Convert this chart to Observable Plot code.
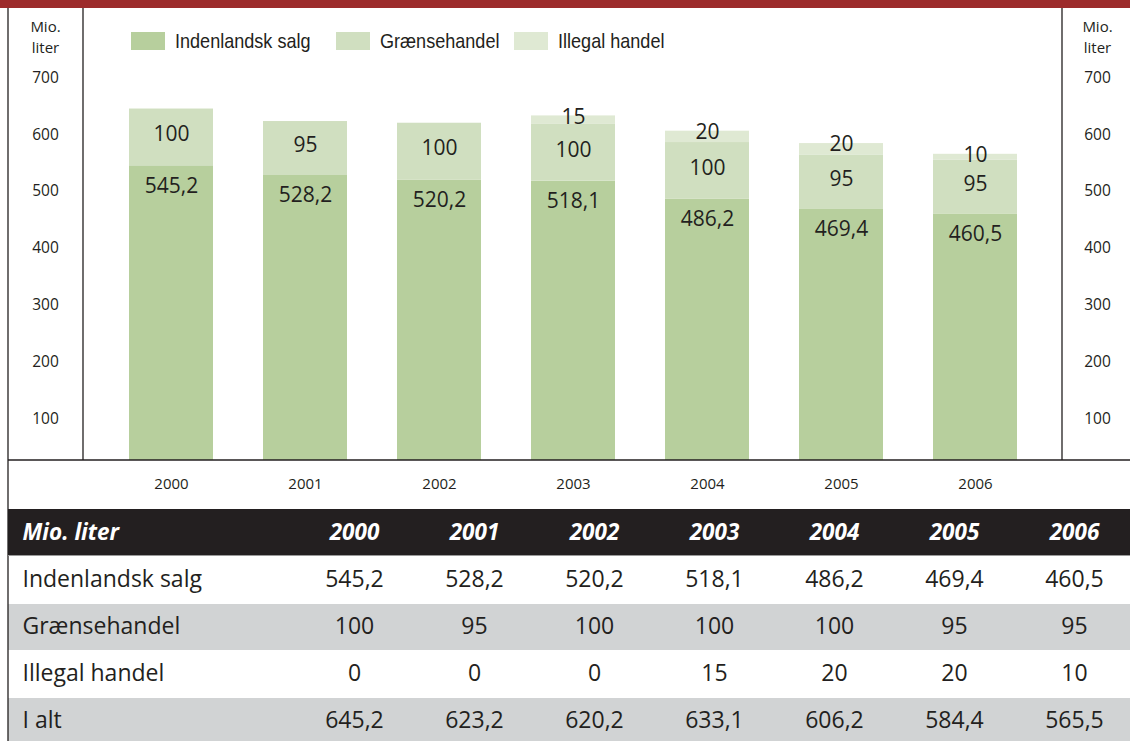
<!DOCTYPE html>
<html>
<head>
<meta charset="utf-8">
<script src="https://cdn.jsdelivr.net/npm/d3@7"></script>
<script src="https://cdn.jsdelivr.net/npm/@observablehq/plot@0.6"></script>
<style>
html, body { margin: 0; padding: 0; background: #fff; overflow: hidden; }
#wrap { position: relative; width: 1130px; height: 741px; overflow: hidden; }
#wrap svg { display: block; }
.legend { position: absolute; top: 32px; left: 0; height: 18px; width: 1130px; }
.item { position: absolute; top: 0; display: flex; align-items: center; white-space: nowrap;
  font-family: "Liberation Sans", Arial, sans-serif; font-size: 21px; line-height: 18px; color: #231f20; }
.sw { width: 34px; height: 18px; margin-right: 10px; flex: none; }
.tx { display: inline-block; transform: scaleX(0.86); transform-origin: 0 50%; }
</style>
</head>
<body>
<div id="wrap"></div>
<script>
// ---- data ----
const years = ["2000", "2001", "2002", "2003", "2004", "2005", "2006"];
const types = ["Indenlandsk salg", "Grænsehandel", "Illegal handel"];
const indenlandsk = [545.2, 528.2, 520.2, 518.1, 486.2, 469.4, 460.5];
const graense = [100, 95, 100, 100, 100, 95, 95];
const illegal = [0, 0, 0, 15, 20, 20, 10];
const colors = ["#b7cf9d", "#d0dfc0", "#dfe9d3"];
const yTicks = [100, 200, 300, 400, 500, 600, 700];
const unitLine1 = "Mio.";
const unitLine2 = "liter";
const tableHead = "Mio. liter";
const totalLabel = "I alt";

// ---- helpers ----
const fmt = v => String(Math.round(v * 10) / 10).replace(".", ",");
const series = [indenlandsk, graense, illegal];
const totals = years.map((_, i) => indenlandsk[i] + graense[i] + illegal[i]);

const rows = [];
types.forEach((t, k) => years.forEach((yr, i) => rows.push({year: yr, type: t, value: series[k][i]})));

const lblInd = years.map((yr, i) => ({year: yr, y: indenlandsk[i], text: fmt(indenlandsk[i])}));
const lblGr = years.map((yr, i) => ({year: yr, y: indenlandsk[i] + graense[i] / 2, text: fmt(graense[i])}));
const lblIl = years.map((yr, i) => ({year: yr, y: totals[i], v: illegal[i], text: fmt(illegal[i])})).filter(d => d.v > 0);

const ink = "#231f20";

// decorative frame lines + red band
function chartDecor(index, scales, values, dim) {
  const {width, height, marginTop, marginBottom, marginLeft, marginRight} = dim;
  const g = d3.create("svg:g");
  g.append("rect").attr("x", 0).attr("y", 0).attr("width", width).attr("height", marginTop).attr("fill", "#9c2b2b");
  const L = g.append("g").attr("stroke", ink).attr("stroke-width", 1.3);
  const yb = height - marginBottom;
  L.append("line").attr("x1", 8).attr("x2", 8).attr("y1", marginTop).attr("y2", height);
  L.append("line").attr("x1", marginLeft).attr("x2", marginLeft).attr("y1", marginTop).attr("y2", yb);
  L.append("line").attr("x1", width - marginRight).attr("x2", width - marginRight).attr("y1", marginTop).attr("y2", yb);
  L.append("line").attr("x1", 8).attr("x2", width).attr("y1", yb).attr("y2", yb);
  return g.node();
}

const unitText = (txt, anchor, dx, dy) =>
  Plot.text([txt], {frameAnchor: anchor, dx, dy, textAnchor: "middle", lineAnchor: "top", fontSize: 15, fill: ink});

const chart = Plot.plot({
  width: 1130,
  height: 507,
  marginTop: 8,
  marginBottom: 47,
  marginLeft: 83,
  marginRight: 68,
  style: {fontFamily: "Open Sans", fontSize: "15px", color: ink, background: "white"},
  x: {domain: years, range: [127, 1019], paddingInner: 0.376, paddingOuter: 0},
  y: {domain: [26.4, 822.2], clamp: true},
  color: {domain: types, range: colors},
  marks: [
    Plot.barY(rows, {x: "year", y: "value", fill: "type", order: types}),
    Plot.text(lblInd, {x: "year", y: "y", text: "text", dy: 20, fontSize: 21, fill: ink}),
    Plot.text(lblGr, {x: "year", y: "y", text: "text", dy: -3, fontSize: 21, fill: ink}),
    Plot.text(lblIl, {x: "year", y: "y", text: "text", dy: 1, fontSize: 21, fill: ink}),
    Plot.axisY({anchor: "left", ticks: yTicks, tickSize: 0, tickPadding: 38, textAnchor: "middle", label: null, fontSize: 15.5}),
    Plot.axisY({anchor: "right", ticks: yTicks, tickSize: 0, tickPadding: 35, textAnchor: "middle", label: null, fontSize: 15.5}),
    Plot.axisX({anchor: "bottom", tickSize: 0, tickPadding: 18, label: null, fontSize: 15}),
    unitText(unitLine1, "top-left", -38, 13),
    unitText(unitLine2, "top-left", -38, 34),
    unitText(unitLine1, "top-right", 35, 13),
    unitText(unitLine2, "top-right", 35, 34),
    chartDecor
  ]
});

// ---- table ----
const tableRows = [tableHead, ...types, totalLabel];
const tableVals = [indenlandsk, graense, illegal, totals];
const valCells = [];
tableRows.slice(1).forEach((r, k) => years.forEach((yr, i) => valCells.push({row: r, year: yr, text: fmt(tableVals[k][i])})));

function tableDecor(index, scales, values, dim) {
  const g = d3.create("svg:g");
  g.append("line").attr("x1", 8).attr("x2", 8).attr("y1", 0).attr("y2", dim.height)
    .attr("stroke", ink).attr("stroke-width", 1.3);
  const y1 = scales.y(tableRows[1]);
  g.append("line").attr("x1", 8).attr("x2", dim.width).attr("y1", y1 - 0.5).attr("y2", y1 - 0.5)
    .attr("stroke", "#9a9a9a").attr("stroke-width", 1);
  return g.node();
}

const table = Plot.plot({
  width: 1130,
  height: 238,
  marginTop: 0,
  marginBottom: 0,
  marginLeft: 8,
  marginRight: 0,
  style: {fontFamily: "Open Sans", fontSize: "23px", color: ink, background: "white"},
  x: {type: "point", domain: years, range: [352, 1076], padding: 0, axis: null},
  y: {type: "band", domain: tableRows, range: [0, 238], padding: 0, axis: null},
  marks: [
    Plot.cell([tableRows[0]], {y: d => d, fill: ink}),
    Plot.cell([tableRows[2], tableRows[4]], {y: d => d, fill: "#d1d3d4", insetTop: 1, insetBottom: 0}),
    Plot.text([tableHead], {y: d => d, text: d => d, frameAnchor: "left", dx: 14, textAnchor: "start",
      fill: "white", fontWeight: "bold", fontStyle: "italic", fontSize: 22.5}),
    Plot.text(years, {x: d => d, y: () => tableHead, text: d => d, fill: "white",
      fontWeight: "bold", fontStyle: "italic", fontSize: 22.5}),
    Plot.text(tableRows.slice(1), {y: d => d, text: d => d, frameAnchor: "left", dx: 14, textAnchor: "start", fill: ink, fontSize: 23}),
    Plot.text(valCells, {x: "year", y: "row", text: "text", fill: ink, fontSize: 23}),
    tableDecor
  ]
});

const wrap = document.getElementById("wrap");
wrap.appendChild(chart);
wrap.appendChild(table);

// ---- legend ----
const legend = document.createElement("div");
legend.className = "legend";
const legendLeft = [131, 336, 514];
types.forEach((t, k) => {
  const it = document.createElement("div");
  it.className = "item";
  it.style.left = legendLeft[k] + "px";
  const sw = document.createElement("span");
  sw.className = "sw";
  sw.style.background = colors[k];
  const tx = document.createElement("span");
  tx.className = "tx";
  tx.textContent = t;
  it.appendChild(sw);
  it.appendChild(tx);
  legend.appendChild(it);
});
wrap.appendChild(legend);
</script>
</body>
</html>
